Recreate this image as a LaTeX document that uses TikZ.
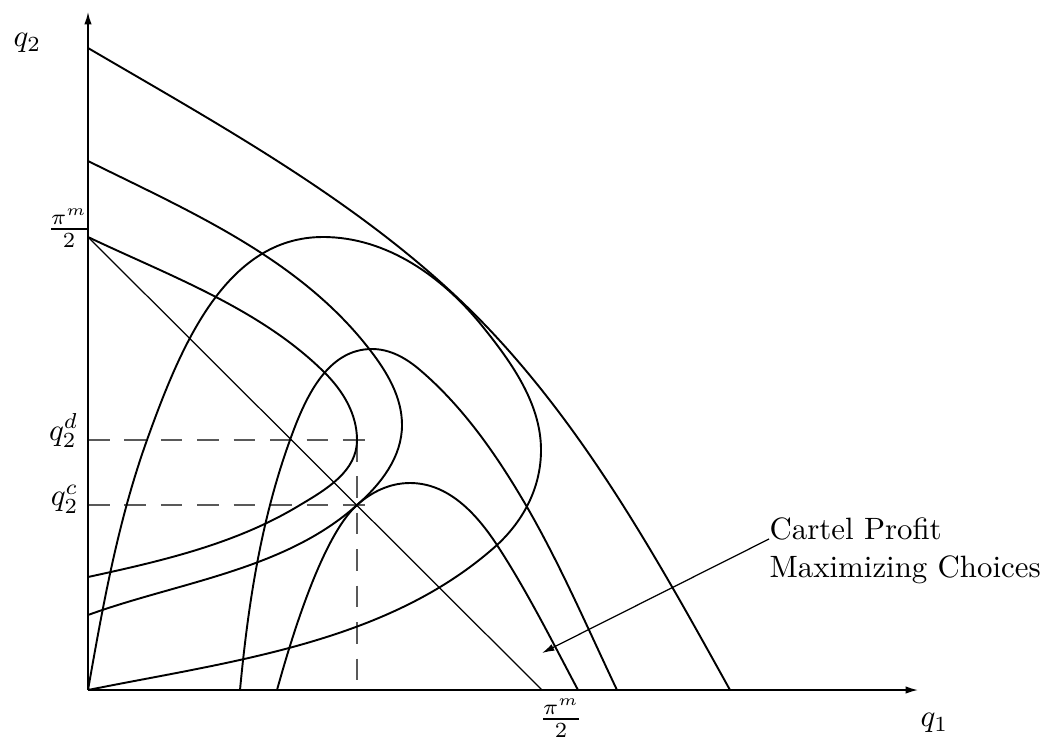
\documentclass[tikz,border=0pt]{standalone}
\usetikzlibrary{arrows.meta}
\begin{document}
\begin{tikzpicture}[x=0.324pt,y=-0.324pt,
  curve/.style={line width=0.62pt, line join=round},
  thinline/.style={line width=0.4pt},
  axis/.style={line width=0.5pt, -{Latex[length=4pt,width=2.4pt]}},
  guide/.style={line width=0.5pt, black!65, dash pattern=on 7pt off 4.8pt},
  pointer/.style={line width=0.4pt, -{Latex[length=4pt,width=2.3pt]}},
  lbl/.style={inner sep=0pt}]
\useasboundingbox (0,0) rectangle (1046,737);
% key points
\coordinate (O) at (88,690);
\coordinate (ytop) at (88,12);
\coordinate (xend) at (918,690);
\coordinate (pmy) at (88,237);
\coordinate (pmx) at (542,690);
\coordinate (dL) at (88,440);
\coordinate (dR) at (376,440);
\coordinate (cL) at (88,505);
\coordinate (cR) at (376,505);
\coordinate (vtop) at (357,440);
\coordinate (vbot) at (357,690);
\coordinate (cp) at (542,653);
% dashed guides
\draw[guide] (dL) -- (dR);
\draw[guide] (cL) -- (cR);
\draw[guide] (vtop) -- (vbot);
% outer curve
\draw[curve] (88,48) .. controls (228,130) and (375,210) .. (487,327)
  .. controls (588,433) and (659,562) .. (730,690);
% teardrop
\draw[curve] (O) .. controls (103,605) and (118,521) .. (147,440)
  .. controls (180,348) and (225,237) .. (323,237)
  .. controls (387,237) and (443,277) .. (483,327)
  .. controls (512,363) and (541,404) .. (541,450)
  .. controls (541,487) and (524,520) .. (497,545)
  .. controls (388,643) and (232,661) .. (O);
% middle C
\draw[curve] (88,161) .. controls (191,212) and (300,259) .. (370,350)
  .. controls (387,372) and (402,397) .. (402,425)
  .. controls (402,457) and (381,484) .. (357,505)
  .. controls (285,570) and (179,582) .. (88,615);
% inner C
\draw[curve] (pmy) .. controls (170,276) and (261,309) .. (325,373)
  .. controls (343,391) and (357,414) .. (vtop)
  .. controls (357,471) and (327,489) .. (300,505)
  .. controls (236,544) and (161.5,561) .. (88,577);
% middle hump
\draw[curve] (240,690) .. controls (248,605) and (261,520) .. (290,440)
  .. controls (305,398) and (327,349) .. (372,349)
  .. controls (390,349) and (406,358) .. (420,370)
  .. controls (464,407.5) and (498,457) .. (527,507)
  .. controls (561,566) and (588,629) .. (617,690);
% inner hump
\draw[curve] (277,690) .. controls (289,647) and (320.6,537.8) .. (357,505)
  .. controls (372,491.6) and (390,483) .. (410,483)
  .. controls (448,483) and (476,513) .. (497,545)
  .. controls (527,591) and (552,641) .. (578,690);
% diagonal
\draw[thinline] (pmy) -- (pmx);
% axes
\draw[axis] (O) -- (ytop);
\draw[axis] (O) -- (xend);
% labels
\node[lbl, anchor=base west] (q2) at (13,46.5) {$q_2$};
\node[lbl, anchor=base west] (q1) at (920,726.5) {$q_1$};
\node[lbl, anchor=base east] (q2d) at (79,440) {$q_2^d$};
\node[lbl, anchor=base east] (q2c) at (79,505.5) {$q_2^c$};
\node[lbl, anchor=base] (fy) at (69,236.7) {$\frac{\pi^m}{2}$};
\node[lbl, anchor=base] (fx) at (561,726.7) {$\frac{\pi^m}{2}$};
\node[lbl, anchor=base west] (cartel) at (769,539) {Cartel Profit};
\node[lbl, anchor=base west] (maxi) at (769,577) {Maximizing Choices};
\draw[pointer] (cartel.base west) -- (cp);
\end{tikzpicture}
\end{document}
